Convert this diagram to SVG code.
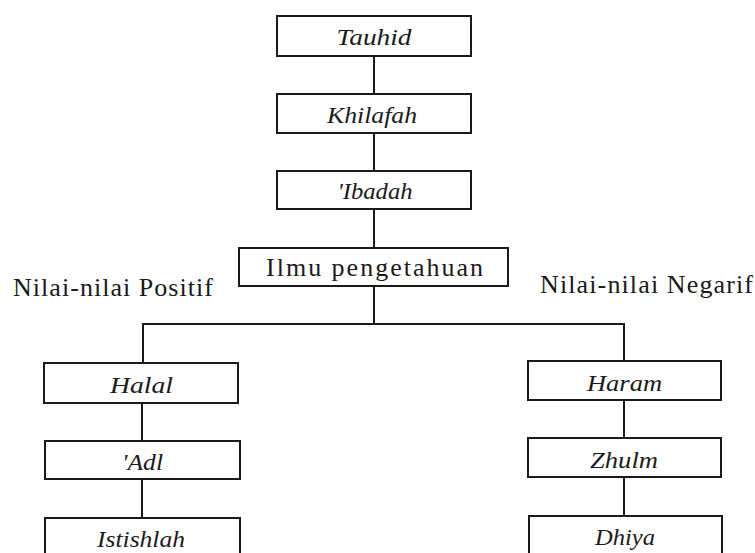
<svg xmlns="http://www.w3.org/2000/svg" width="755" height="553" viewBox="0 0 755 553">
<style>
.box{fill:#fff;stroke:#1a1a1a;stroke-width:2}
text{font-family:'Liberation Serif','Times New Roman',Times,serif;fill:#1a1a1a}
.lbl{font-style:italic;font-size:24px;text-anchor:middle}
.up{font-size:26px}
.conn line{stroke:#1a1a1a;stroke-width:2}
</style>
<rect width="755" height="553" fill="#fff"/>
<g id="connectors" class="conn">
<line x1="374" y1="56" x2="374" y2="94"/>
<line x1="374" y1="133" x2="374" y2="171"/>
<line x1="374" y1="209" x2="374" y2="248"/>
<line x1="374" y1="286" x2="374" y2="324"/>
<line x1="142" y1="324" x2="625" y2="324"/>
<line x1="143" y1="324" x2="143" y2="363"/>
<line x1="142" y1="403" x2="142" y2="441"/>
<line x1="142" y1="479" x2="142" y2="518"/>
<line x1="624" y1="324" x2="624" y2="361"/>
<line x1="624" y1="400" x2="624" y2="438"/>
<line x1="624" y1="477" x2="624" y2="516"/>
</g>
<g id="tauhid"><rect class="box" x="277" y="16" width="194" height="40"/><text class="lbl" x="374" y="45" textLength="75" lengthAdjust="spacingAndGlyphs">Tauhid</text></g>
<g id="khilafah"><rect class="box" x="277" y="94" width="194" height="39"/><text class="lbl" x="372" y="123" textLength="90" lengthAdjust="spacingAndGlyphs">Khilafah</text></g>
<g id="ibadah"><rect class="box" x="277" y="171" width="194" height="38"/><text class="lbl" x="375" y="199" textLength="75" lengthAdjust="spacingAndGlyphs">'Ibadah</text></g>
<g id="ilmu"><rect class="box" x="239" y="248" width="269" height="38"/><text class="up" x="266" y="276" font-size="24" textLength="217" lengthAdjust="spacing">Ilmu pengetahuan</text></g>
<g id="positif"><text class="up" x="13" y="296" font-size="27" textLength="200" lengthAdjust="spacing">Nilai-nilai Positif</text></g>
<g id="negatif"><text class="up" x="540" y="293" font-size="27" textLength="213" lengthAdjust="spacing">Nilai-nilai Negarif</text></g>
<g id="halal"><rect class="box" x="44" y="363" width="194" height="40"/><text class="lbl" x="141.5" y="393" textLength="63" lengthAdjust="spacingAndGlyphs">Halal</text></g>
<g id="adl"><rect class="box" x="45" y="441" width="195" height="38"/><text class="lbl" x="142.5" y="470" textLength="41" lengthAdjust="spacingAndGlyphs">'Adl</text></g>
<g id="istishlah"><rect class="box" x="45" y="518" width="195" height="45"/><text class="lbl" x="141" y="547" textLength="88" lengthAdjust="spacingAndGlyphs">Istishlah</text></g>
<g id="haram"><rect class="box" x="528" y="361" width="193" height="39"/><text class="lbl" x="624.5" y="391" textLength="75" lengthAdjust="spacingAndGlyphs">Haram</text></g>
<g id="zhulm"><rect class="box" x="528" y="438" width="193" height="39"/><text class="lbl" x="624" y="468" textLength="68" lengthAdjust="spacingAndGlyphs">Zhulm</text></g>
<g id="dhiya"><rect class="box" x="529" y="516" width="193" height="45"/><text class="lbl" x="625" y="545" textLength="60" lengthAdjust="spacingAndGlyphs">Dhiya</text></g>
</svg>
